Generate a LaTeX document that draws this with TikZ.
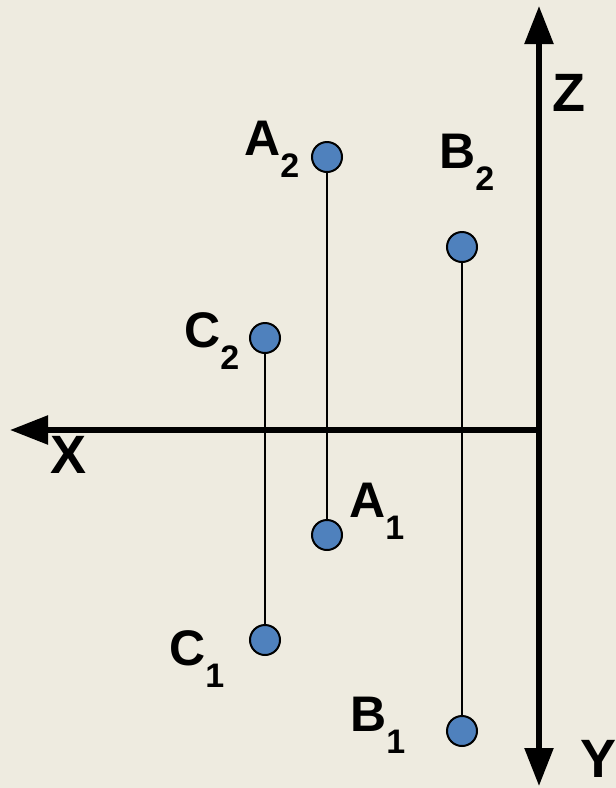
\documentclass[tikz,border=0pt]{standalone}
\usepackage{fontspec}
\setmainfont{Liberation Sans}
\usetikzlibrary{arrows.meta}
\definecolor{paper}{RGB}{238,235,224}
\definecolor{dotblue}{RGB}{79,129,189}
\newcommand{\ptlabel}[2]{{\fontsize{50}{50}\selectfont #1}\raisebox{-22pt}{\fontsize{34}{34}\selectfont #2}}

\begin{document}
\begin{tikzpicture}[
  x=1pt, y=-1pt,
  dot/.style={circle, draw, line width=2pt, fill=dotblue, minimum size=30pt, inner sep=0pt},
  lbl/.style={anchor=base west, inner sep=0pt, font=\bfseries},
  axlbl/.style={anchor=base west, inner sep=0pt, font=\bfseries\fontsize{54}{54}\selectfont},
  proj/.style={line width=1.6pt},
  axis/.style={line width=5.5pt, {Triangle[length=38pt,width=28pt]}-{Triangle[length=38pt,width=28pt]}},
  ar/.style={line width=5.5pt, -{Triangle[length=38pt,width=28pt]}}]

  \fill[paper] (0,0) rectangle (616,788);
  \useasboundingbox (0,0) rectangle (616,788);

  % axes
  \coordinate (o) at (539,430);
  \coordinate (ztip) at (539,6);
  \coordinate (ytip) at (539,786);
  \coordinate (xtip) at (10,430);
  \draw[axis] (ztip) -- (ytip);
  \draw[ar] (o) -- (xtip);
  \node[axlbl] (xl) at (50,473) {X};
  \node[axlbl] (yl) at (580,777) {Y};
  \node[axlbl] (zl) at (552,111) {Z};

  % points
  \node[dot] (a2) at (327,157) {};
  \node[dot] (b2) at (462,247) {};
  \node[dot] (c2) at (265,338) {};
  \node[dot] (a1) at (327,535) {};
  \node[dot] (c1) at (265,640) {};
  \node[dot] (b1) at (462,731) {};

  \draw[proj] (a2) -- (a1);
  \draw[proj] (b2) -- (b1);
  \draw[proj] (c2) -- (c1);

  % labels
  \node[lbl] (a2l) at (244,155) {\ptlabel{A}{2}};
  \node[lbl] (b2l) at (439,168) {\ptlabel{B}{2}};
  \node[lbl] (c2l) at (184,347) {\ptlabel{C}{2}};
  \node[lbl] (a1l) at (349,517) {\ptlabel{A}{1}};
  \node[lbl] (c1l) at (169,665) {\ptlabel{C}{1}};
  \node[lbl] (b1l) at (350,731) {\ptlabel{B}{1}};
\end{tikzpicture}
\end{document}
